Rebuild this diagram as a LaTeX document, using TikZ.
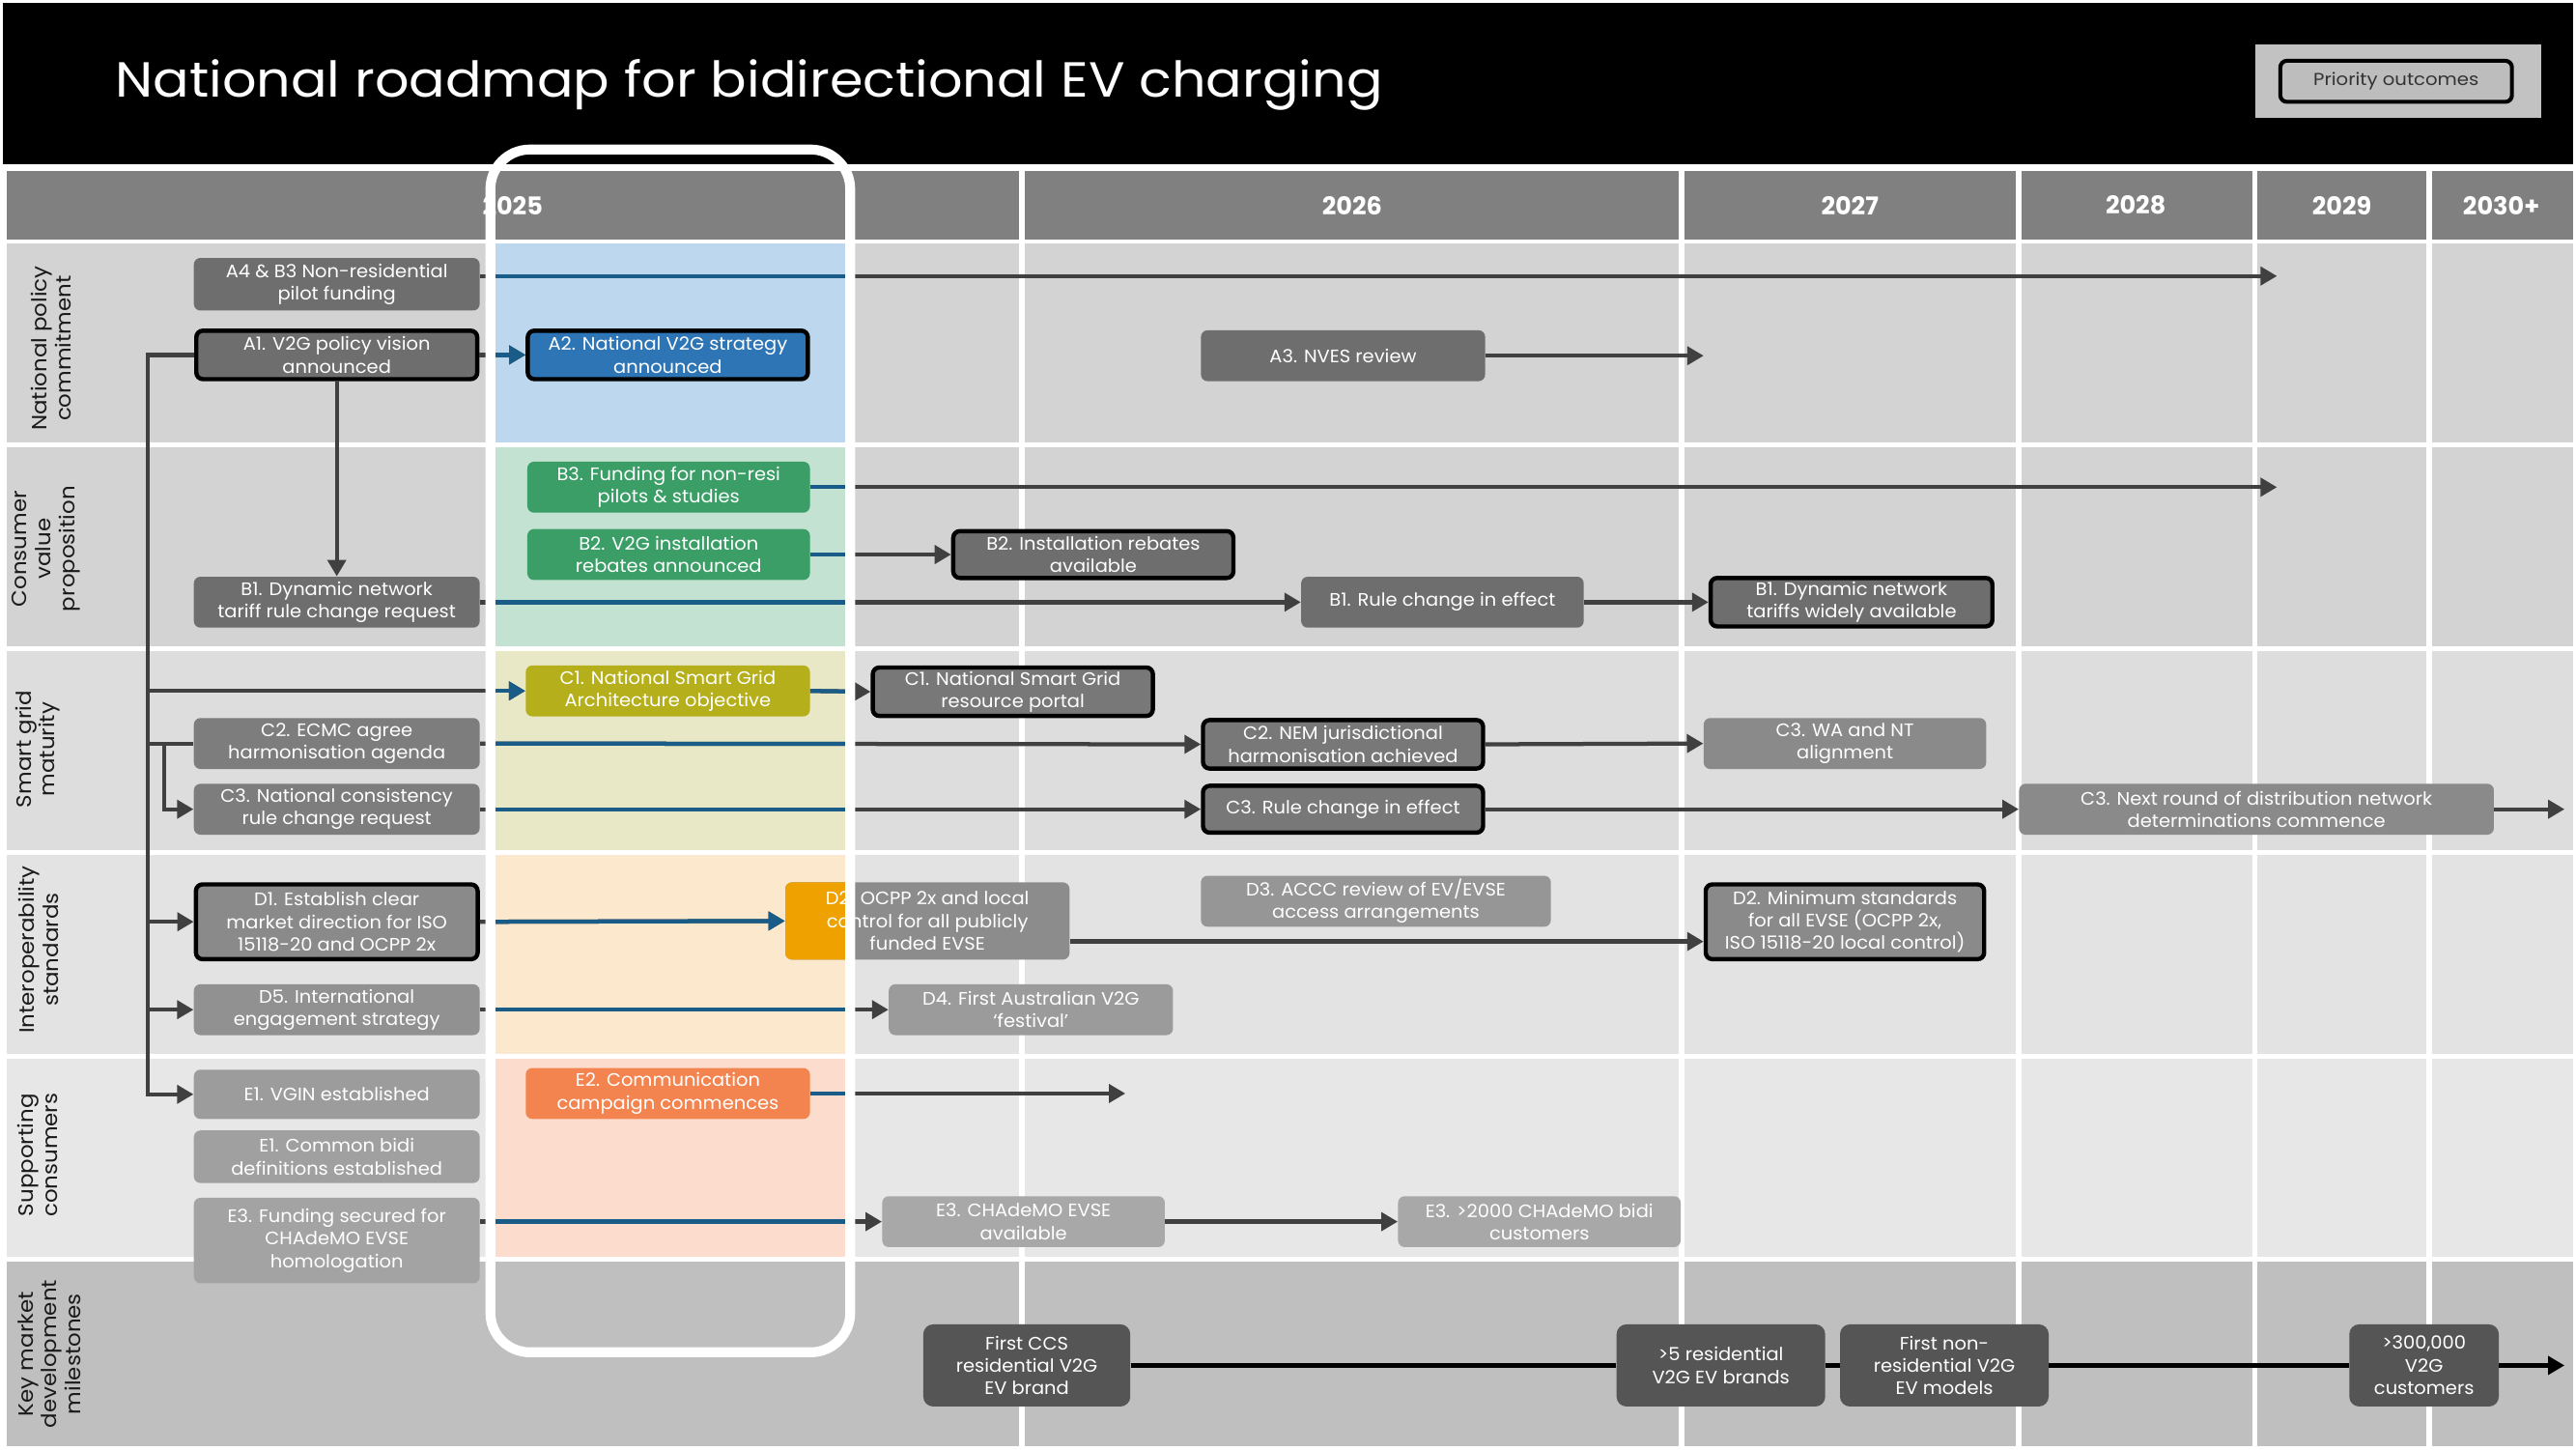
\documentclass[tikz,border=0pt]{standalone}
\usepackage{fontspec}
\setmainfont{Poppins}
\newfontfamily\ttlfam[FakeStretch=1.09]{Poppins}
\newfontfamily\bxfam[FakeStretch=1.04]{Poppins}
\newfontfamily\rlfam[FakeStretch=1.07]{Poppins}
\newfontfamily\legfam[FakeStretch=1.1]{Poppins}
\usetikzlibrary{arrows.meta}
\definecolor{hdr}{HTML}{808080}
\definecolor{rowA}{HTML}{D3D3D3}
\definecolor{rowC}{HTML}{DDDDDD}
\definecolor{rowD}{HTML}{E3E3E3}
\definecolor{rowE}{HTML}{E7E7E7}
\definecolor{rowF}{HTML}{BFBFBF}
\definecolor{hlA}{HTML}{BDD7EE}
\definecolor{hlB}{HTML}{C3E2D1}
\definecolor{hlC}{HTML}{E9E8C6}
\definecolor{hlD}{HTML}{FBE8CD}
\definecolor{hlE}{HTML}{FBDCCD}
\definecolor{acA}{HTML}{2E75B6}
\definecolor{acB}{HTML}{3A9E66}
\definecolor{acC}{HTML}{B5AF1C}
\definecolor{acD}{HTML}{EFA100}
\definecolor{acE}{HTML}{F4844F}
\definecolor{cblue}{HTML}{1A5C88}
\definecolor{cgray}{HTML}{404040}
\definecolor{gA}{HTML}{6E6E6E}
\definecolor{gC}{HTML}{7D7D7D}
\definecolor{gCb}{HTML}{787878}
\definecolor{gCl}{HTML}{8A8A8A}
\definecolor{gD}{HTML}{8A8A8A}
\definecolor{gD2}{HTML}{8C8C8C}
\definecolor{gD3}{HTML}{969696}
\definecolor{gD4}{HTML}{9B9B9B}
\definecolor{gD5}{HTML}{919191}
\definecolor{gE1}{HTML}{9C9C9C}
\definecolor{gE2}{HTML}{A0A0A0}
\definecolor{gE3}{HTML}{A3A3A3}
\definecolor{gE4}{HTML}{A8A8A8}
\definecolor{gF}{HTML}{555555}
\definecolor{labtxt}{HTML}{1A1A1A}
\definecolor{legbg}{HTML}{C2C2C2}
\definecolor{legin}{HTML}{BDBDBD}
\definecolor{legtx}{HTML}{333333}
\colorlet{conncol}{cgray}
\newcommand\bxf{\bxfam\fontsize{11}{13.7}\selectfont}
\newcommand\rlf{\rlfam\fontsize{12.6}{14.5}\selectfont}
\newcommand\yrf{\fontsize{15}{18}\selectfont\bfseries}
\newcommand\ttlf{\ttlfam\fontsize{30}{36}\selectfont}
\newcommand\legf{\legfam\fontsize{10.5}{12}\selectfont}
\newcommand\myconns{%
  \draw[conn,arr] (A4.east |- endA4) -- (endA4);
  \draw[conn,arr] (A1.east) -- (A2.west);
  \draw[conn,arr] (A1.south) -- (B1.north);
  \draw[conn,arr] (A3.east) -- (endA3);
  \draw[conn,arr] (B3.east) -- (endB3);
  \draw[conn,arr] (B2.east) -- (B2a.west);
  \draw[conn,arr] (B1.east) -- (B1b.west);
  \draw[conn,arr] (B1b.east) -- (B1c.west);
  \draw[conn,arr] (A1.west) -- (trA) |- (E1v.west);
  \draw[conn,arr] (trC1) -- (C1.west);
  \draw[conn] (trC2) -- (C2.west);
  \draw[conn,arr] (brC3) |- (C3.west);
  \draw[conn,arr] (C1.east) -- (C1b.west);
  \draw[conn,arr] (C2.east) -- (C2b.west);
  \draw[conn,arr] (C2b.east) -- (C3w.west);
  \draw[conn,arr] (C3.east) -- (C3b.west);
  \draw[conn,arr] (C3b.east) -- (C3n.west);
  \draw[conn,arr] (C3n.east) -- (endC3);
  \draw[conn,arr] (trD1) -- (D1.west);
  \draw[conn,arr] (D1.east) -- (D2.west);
  \draw[conn,arr] ([yshift=-12.5pt]D2.east) -- ([yshift=-12pt]D2b.west);
  \draw[conn,arr] (trD5) -- (D5.west);
  \draw[conn,arr] (D5.east) -- (D4.west);
  \draw[conn,arr] (E2.east) -- (endE2);
  \draw[conn,arr] (E3f.east |- E3a.west) -- (E3a.west);
  \draw[conn,arr] (E3a.east) -- (E3b.west);
}
\begin{document}
\begin{tikzpicture}[x=1pt,y=-1pt,
  bx/.style={rounded corners=4pt,text=white,align=center,inner sep=0pt,font=\bxf},
  bb/.style={bx,draw=black,line width=2.6pt},
  sz/.style 2 args={minimum width=#1pt,minimum height=#2pt},
  conn/.style={draw=conncol,line width=2.5pt},
  arr/.style={-{Triangle[length=10pt,width=11pt]}},
  rl/.style={rotate=90,align=center,text=labtxt,font=\rlf,inner sep=0pt},
  yr/.style={text=white,font=\yrf,inner sep=0pt},
  ms/.style={bx,fill=gF,rounded corners=6pt},
]
\useasboundingbox (0,0) rectangle (1568,882);
\fill[white] (0,0) rectangle (1568,882);
% header
\fill[black] (2,2) rectangle (1566,100);
\node[anchor=base west,text=white,font=\ttlf,inner sep=0pt] (title) at (70,59) {National roadmap for bidirectional EV charging};
\fill[legbg] (1373,27) rectangle (1547,72);
\node[draw=black,line width=2.4pt,fill=legin,rounded corners=4pt,minimum width=141pt,minimum height=25pt,inner sep=0pt,text=legtx,font=\legf] (prio) at (1458.5,49.5) {Priority outcomes};
% year bar and rows
\fill[hdr] (4,104) rectangle (1566,146);
\fill[rowA] (4,148) rectangle (1566,269.5);
\fill[rowA] (4,272.5) rectangle (1566,393.5);
\fill[rowC] (4,396.5) rectangle (1566,517.5);
\fill[rowD] (4,520.5) rectangle (1566,641.5);
\fill[rowE] (4,644.5) rectangle (1566,765);
\fill[rowF] (4,768) rectangle (1566,880);
\foreach \x in {622,1023.5,1228.5,1372.5,1478.5}
  \draw[white,line width=3.5pt] (\x,102) -- (\x,880);
% highlight column fills
\fill[hlA] (298.5,148) rectangle (517.5,269.5);
\fill[hlB] (298.5,272.5) rectangle (517.5,393.5);
\fill[hlC] (298.5,396.5) rectangle (517.5,517.5);
\fill[hlD] (298.5,520.5) rectangle (517.5,641.5);
\fill[hlE] (298.5,644.5) rectangle (517.5,765);
% years
\node[yr] (y25) at (312,125) {2025};
\node[yr] (y26) at (823,125) {2026};
\node[yr] (y27) at (1126,125) {2027};
\node[yr] (y28) at (1300,125) {2028};
\node[yr] (y29) at (1425.5,125) {2029};
\node[yr] (y30) at (1522.5,125) {2030+};
% row labels
\node[rl] (lA) at (31,212) {National policy\\commitment};
\node[rl] (lB) at (28,334) {Consumer\\value\\proposition};
\node[rl] (lC) at (23,456) {Smart grid\\maturity};
\node[rl] (lD) at (23.5,578) {Interoperability\\standards};
\node[rl] (lE) at (23,703) {Supporting\\consumers};
\node[rl] (lF) at (30,824) {Key market\\development\\milestones};
% Row A
\node[bx,fill=gA,sz={174}{32}] (A4) at (205,173) {A4 \& B3 Non-residential\\pilot funding};
\node[bb,fill=gA,sz={171}{29.5}] (A1) at (205,216) {A1. V2G policy vision\\announced};
\node[bb,fill=acA,sz={170.5}{29.5}] (A2) at (406.5,216) {A2. National V2G strategy\\announced};
\node[bx,fill=gA,sz={173}{31}] (A3) at (817.5,216.5) {A3. NVES review};
% Row B
\node[bx,fill=acB,sz={172}{31}] (B3) at (407,296.5) {B3. Funding for non-resi\\pilots \& studies};
\node[bx,fill=acB,sz={172}{31}] (B2) at (407,337.5) {B2. V2G installation\\rebates announced};
\node[bx,fill=gA,sz={174}{31}] (B1) at (205,366.5) {B1. Dynamic network\\tariff rule change request};
\node[bb,fill=gA,sz={170.5}{28.5}] (B2a) at (665.5,337.5) {B2. Installation rebates\\available};
\node[bx,fill=gA,sz={172}{31}] (B1b) at (878,366.5) {B1. Rule change in effect};
\node[bb,fill=gA,sz={171.5}{29.5}] (B1c) at (1127,366.5) {B1. Dynamic network\\tariffs widely available};
% Row C
\node[bx,fill=acC,sz={173}{31}] (C1) at (406.5,420.5) {C1. National Smart Grid\\Architecture objective};
\node[bb,fill=gCb,sz={170.5}{29.5}] (C1b) at (616.5,421) {C1. National Smart Grid\\resource portal};
\node[bx,fill=gC,sz={174}{31}] (C2) at (205,452.5) {C2. ECMC agree\\harmonisation agenda};
\node[bb,fill=gCb,sz={170.5}{29.5}] (C2b) at (817.5,453) {C2. NEM jurisdictional\\harmonisation achieved};
\node[bx,fill=gCl,sz={172}{31}] (C3w) at (1123,452.5) {C3. WA and NT\\alignment};
\node[bx,fill=gC,sz={174}{31}] (C3) at (205,492.5) {C3. National consistency\\rule change request};
\node[bb,fill=gCb,sz={170.5}{28.5}] (C3b) at (817.5,492.5) {C3. Rule change in effect};
\node[bx,fill=gCl,sz={289}{31}] (C3n) at (1373.5,492.5) {C3. Next round of distribution network\\determinations commence};
% Row D
\node[bb,fill=gD,sz={171.5}{45.5}] (D1) at (205,561) {D1. Establish clear\\market direction for ISO\\15118-20 and OCPP 2x};
\node[bx,fill=gD2,sz={173}{47}] (D2) at (564.5,560.5) {D2. OCPP 2x and local\\control for all publicly\\funded EVSE};
\node[bx,fill=gD3,sz={213}{31}] (D3) at (837.5,548.5) {D3. ACCC review of EV/EVSE\\access arrangements};
\node[bb,fill=gD,sz={169.5}{45.5}] (D2b) at (1123,561) {D2. Minimum standards\\for all EVSE (OCPP 2x,\\ISO 15118-20 local control)};
\node[bx,fill=gD5,sz={174}{31}] (D5) at (205,614.5) {D5. International\\engagement strategy};
\node[bx,fill=gD4,sz={173}{31}] (D4) at (627.5,614.5) {D4. First Australian V2G\\‘festival’};
% Row E
\node[bx,fill=gE1,sz={174}{30}] (E1v) at (205,666) {E1. VGIN established};
\node[bx,fill=gE2,sz={174}{32}] (E1c) at (205,704) {E1. Common bidi\\definitions established};
\node[bx,fill=gE3,sz={174}{52}] (E3f) at (205,755) {E3. Funding secured for\\CHAdeMO EVSE\\homologation};
\node[bx,fill=acE,sz={173}{31}] (E2) at (406.5,665.5) {E2. Communication\\campaign commences};
\node[bx,fill=gE4,sz={172}{31}] (E3a) at (623,743.5) {E3. CHAdeMO EVSE\\available};
\node[bx,fill=gE4,sz={172}{31}] (E3b) at (937,743.5) {E3. >2000 CHAdeMO bidi\\customers};
% Row F
\node[ms,sz={126}{50}] (F1) at (625,831) {First CCS\\residential V2G\\EV brand};
\node[ms,sz={127}{50}] (F2) at (1047.5,831) {>5 residential\\V2G EV brands};
\node[ms,sz={127}{50}] (F3) at (1183.5,831) {First non-\\residential V2G\\EV models};
\node[ms,sz={91}{50}] (F4) at (1475.5,831) {>300,000\\V2G\\customers};
% free ends
\coordinate (endA4) at (1386,168);
\coordinate (endA3) at (1037,216.5);
\coordinate (endB3) at (1386,296.5);
\coordinate (trA) at (90,216);
\coordinate (trC1) at (90,420.5);
\coordinate (trC2) at (90,452.5);
\coordinate (brC3) at (100,452.5);
\coordinate (trD1) at (90,561);
\coordinate (trD5) at (90,614.5);
\coordinate (endC3) at (1561,492.5);
\coordinate (endE2) at (685,665.5);
\coordinate (endF) at (1561,831);
% connectors
\myconns
\draw[black,line width=3pt] (F1.east) -- (F2.west);
\draw[black,line width=3pt] (F2.east) -- (F3.west);
\draw[black,line width=3pt] (F3.east) -- (F4.west);
\draw[black,line width=3pt,arr] (F4.east) -- (endF);
% highlighted column overlay
\begin{scope}
  \clip (298.5,148) rectangle (517.5,765);
  \colorlet{conncol}{cblue}
  \myconns
  \node[bx,fill=acD,sz={173}{47}] (D2o) at (D2) {D2. OCPP 2x and local\\control for all publicly\\funded EVSE};
\end{scope}
\draw[white,line width=6pt,rounded corners=24pt] (298.5,91) rectangle (517.5,823);
\end{tikzpicture}
\end{document}
